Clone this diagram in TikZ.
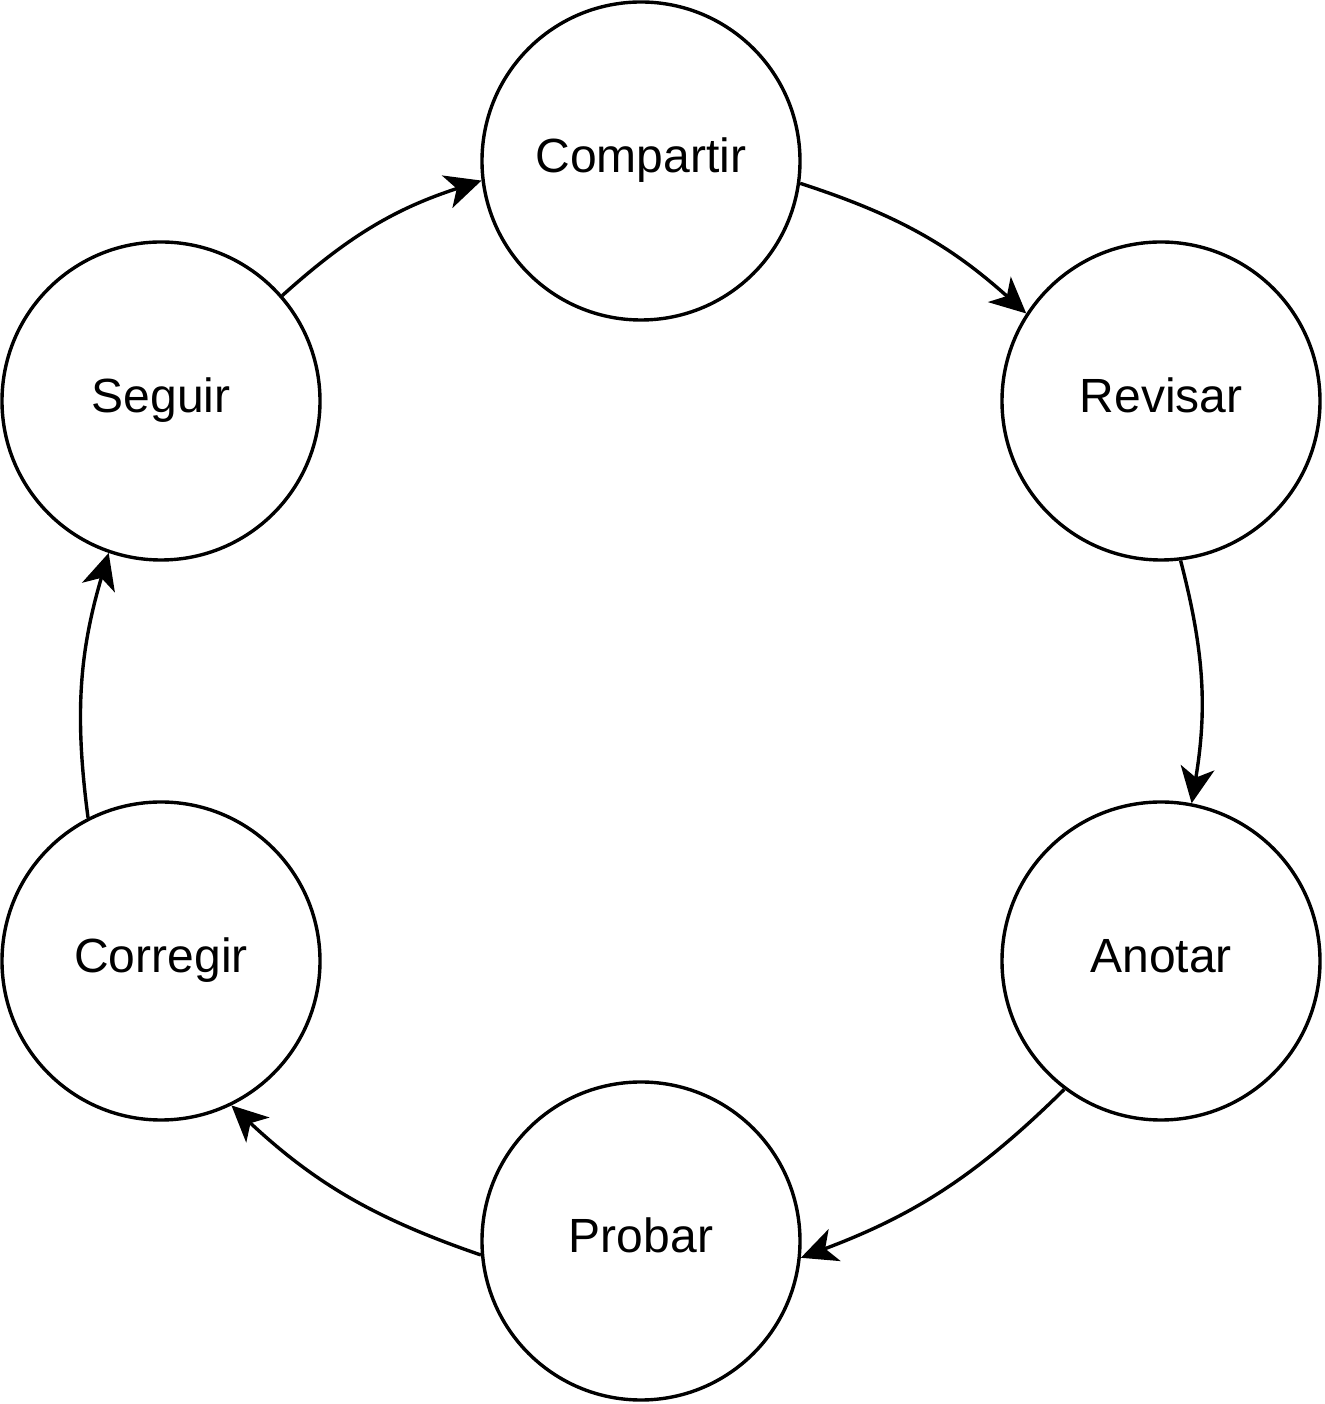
\documentclass[tikz,border=0pt]{standalone}
\usepackage{fontspec}
\setmainfont{Liberation Sans}
\usetikzlibrary{arrows.meta}

\begin{document}
\begin{tikzpicture}[x=0.5pt, y=0.5pt,
    etapa/.style={draw, circle, line width=1.7pt, minimum size=159pt, inner sep=0pt,
      text height=17pt, text depth=5pt, font=\fontsize{24}{28}\selectfont},
    flecha/.style={-{Stealth[length=18pt,width=17pt,inset=5pt]}, line width=1.7pt, bend left=12}]
   \useasboundingbox (0,0) rectangle (1324,1404);

   \node[etapa] (comp) at (641,1243) {Compartir};
   \node[etapa] (rev)  at (1161,1003) {Revisar};
   \node[etapa] (anot) at (1161,443) {Anotar};
   \node[etapa] (prob) at (641,163) {Probar};
   \node[etapa] (corr) at (161,443) {Corregir};
   \node[etapa] (seg)  at (161,1003) {Seguir};

   \draw[flecha] (comp.-8.5) to (rev.147);
   \draw[flecha] (rev.-83) to (anot.79);
   \draw[flecha] (anot.-127) to (prob.-6);
   \draw[flecha] (prob.185) to (corr.-64);
   \draw[flecha] (corr.117) to (seg.-109);
   \draw[flecha] (seg.41) to (comp.187);
\end{tikzpicture}
\end{document}
